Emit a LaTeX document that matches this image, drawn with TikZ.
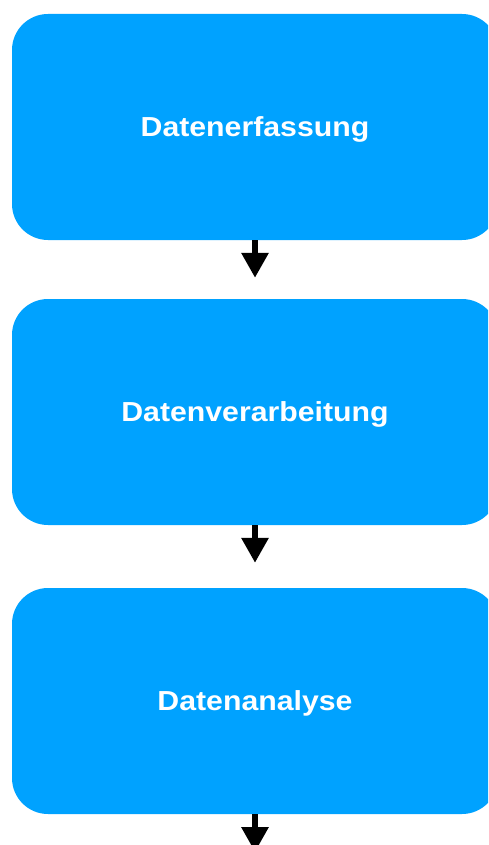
\documentclass[tikz,border=0pt]{standalone}
\usepackage{fontspec}
\newfontfamily\boxfont[FakeStretch=1.1]{Liberation Sans}
\usetikzlibrary{arrows.meta}
\definecolor{boxblue}{RGB}{0,162,255}
\begin{document}
\begin{tikzpicture}[x=1pt,y=-1pt,
  stepbox/.style={rectangle, fill=boxblue, draw=none, rounded corners=36pt,
    minimum width=486pt, minimum height=226pt, inner sep=0pt, text depth=0pt,
    text=white, font=\boxfont\bfseries\fontsize{27.5}{32}\selectfont},
  arr/.style={line width=6pt, -{Triangle[width=26pt,length=25pt]}, black}]
\useasboundingbox (0,0) rectangle (488,845);
\clip (0,0) rectangle (488,845);
\node[stepbox] (b1) at (255,127) {Datenerfassung};
\node[stepbox] (b2) at (255,412) {Datenverarbeitung};
\node[stepbox] (b3) at (255,701) {Datenanalyse};
\coordinate (end) at (255,852);
\draw[arr] (b1.south) -- ([yshift=21pt]b2.north);
\draw[arr] (b2.south) -- ([yshift=25pt]b3.north);
\draw[arr] (b3.south) -- (end);
\end{tikzpicture}
\end{document}
